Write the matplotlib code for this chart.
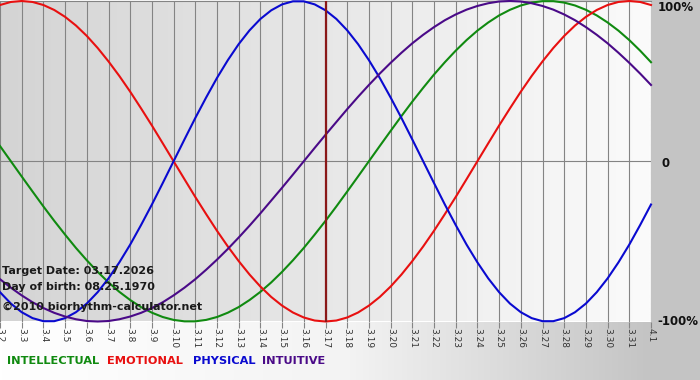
import numpy as np
import matplotlib.pyplot as plt
from matplotlib.colors import LinearSegmentedColormap

# Days shown on the x axis (target date 03.17.2026 in the middle)
days = ["3.2", "3.3", "3.4", "3.5", "3.6", "3.7", "3.8", "3.9", "3.10", "3.11",
        "3.12", "3.13", "3.14", "3.15", "3.16", "3.17", "3.18", "3.19", "3.20",
        "3.21", "3.22", "3.23", "3.24", "3.25", "3.26", "3.27", "3.28", "3.29",
        "3.30", "3.31", "4.1"]
target_day = "3.17"

# Cycle values in percent, read every half day (day, day + 1/2, next day ...)
physical = [-81.7, -88.8, -94.2, -97.9, -99.8, -99.8, -97.9, -94.2, -88.8, -81.7,
            -73.1, -63.1, -52.0, -39.8, -27.0, -13.6, 0, 13.6, 27.0, 39.8,
            52.0, 63.1, 73.1, 81.7, 88.8, 94.2, 97.9, 99.8, 99.8, 97.9,
            94.2, 88.8, 81.7, 73.1, 63.1, 52.0, 39.8, 27.0, 13.6, 0,
            -13.6, -27.0, -39.8, -52.0, -63.1, -73.1, -81.7, -88.8, -94.2, -97.9,
            -99.8, -99.8, -97.9, -94.2, -88.8, -81.7, -73.1, -63.1, -52.0, -39.8,
            -27.0]
emotional = [97.5, 99.4, 100, 99.4, 97.5, 94.4, 90.1, 84.7, 78.2, 70.7,
             62.3, 53.2, 43.4, 33.0, 22.3, 11.2, 0, -11.2, -22.3, -33.0,
             -43.4, -53.2, -62.3, -70.7, -78.2, -84.7, -90.1, -94.4, -97.5, -99.4,
             -100, -99.4, -97.5, -94.4, -90.1, -84.7, -78.2, -70.7, -62.3, -53.2,
             -43.4, -33.0, -22.3, -11.2, 0, 11.2, 22.3, 33.0, 43.4, 53.2,
             62.3, 70.7, 78.2, 84.7, 90.1, 94.4, 97.5, 99.4, 100, 99.4,
             97.5]
intellectual = [9.5, 0, -9.5, -18.9, -28.2, -37.2, -45.8, -54.1, -61.8, -69.0,
                -75.6, -81.5, -86.6, -91.0, -94.5, -97.2, -99.0, -99.9, -99.9, -99.0,
                -97.2, -94.5, -91.0, -86.6, -81.5, -75.6, -69.0, -61.8, -54.1, -45.8,
                -37.2, -28.2, -18.9, -9.5, 0, 9.5, 18.9, 28.2, 37.2, 45.8,
                54.1, 61.8, 69.0, 75.6, 81.5, 86.6, 91.0, 94.5, 97.2, 99.0,
                99.9, 99.9, 99.0, 97.2, 94.5, 91.0, 86.6, 81.5, 75.6, 69.0,
                61.8]
intuitive = [-73.6, -78.9, -83.7, -88.0, -91.6, -94.6, -96.9, -98.6, -99.7, -100,
             -99.7, -98.6, -96.9, -94.6, -91.6, -88.0, -83.7, -78.9, -73.6, -67.7,
             -61.4, -54.7, -47.6, -40.2, -32.5, -24.5, -16.5, -8.3, 0, 8.3,
             16.5, 24.5, 32.5, 40.2, 47.6, 54.7, 61.4, 67.7, 73.6, 78.9,
             83.7, 88.0, 91.6, 94.6, 96.9, 98.6, 99.7, 100, 99.7, 98.6,
             96.9, 94.6, 91.6, 88.0, 83.7, 78.9, 73.6, 67.7, 61.4, 54.7,
             47.6]

series = [("INTELLECTUAL", intellectual, "#108a10"),
          ("EMOTIONAL", emotional, "#e81010"),
          ("PHYSICAL", physical, "#0a0ad0"),
          ("INTUITIVE", intuitive, "#4a0a88")]

W, H = 700, 380
fig = plt.figure(figsize=(7, 3.8), dpi=100)

# background: white -> grey towards the right, grey right margin
bg = fig.add_axes([0, 0, 1, 1], zorder=-10)
bg_cmap = LinearSegmentedColormap.from_list(
    "bg", [(0, "#ffffff"), (0.5, "#f3f3f3"), (0.93, "#c4c4c4"), (1, "#c4c4c4")])
bg.imshow(np.linspace(0, 1, 512).reshape(1, -1), aspect="auto", cmap=bg_cmap,
          extent=[0, 1, 0, 1])
bg.axvspan(651 / W, 1, color="#c4c4c4")
bg.set_xlim(0, 1)
bg.set_ylim(0, 1)
bg.axis("off")

# main chart area
top, bottom, right = 1, 321.5, 651
ax = fig.add_axes([0, 1 - bottom / H, right / W, (bottom - top) / H])
x = np.arange(len(days))
xs = np.linspace(0, len(days) - 1, len(physical))
plot_cmap = LinearSegmentedColormap.from_list("plot", ["#d4d4d4", "#fbfbfb"])
ax.imshow(np.linspace(0, 1, 512).reshape(1, -1), aspect="auto", cmap=plot_cmap,
          extent=[0, len(days) - 1, -100, 100], zorder=0)
ax.set_xlim(0, len(days) - 1)
ax.set_ylim(-100, 100)

for xi in x:
    ax.axvline(xi, color="#848484", lw=0.8, zorder=1)
ax.axhline(0, color="#848484", lw=0.8, zorder=1)
ax.axhline(100, color="#848484", lw=0.8, zorder=1, clip_on=False)

for name, vals, col in series:
    ax.plot(xs, vals, color=col, lw=1.5, zorder=3, clip_on=False)

ax.axvline(days.index(target_day), color="#8a1818", lw=1.6, zorder=4)

for s in ax.spines.values():
    s.set_visible(False)
ax.set_xticks(x)
ax.set_xticklabels(days, rotation=-90, fontsize=6.5, color="#333333")
ax.tick_params(axis="x", length=4, width=0.8, color="#848484", pad=1)
ax.set_yticks([])

# right side percent labels
ax.text(1.011, 1 - 6 / 320, "100%", transform=ax.transAxes, fontsize=8.5,
        fontweight="bold", color="#111111", va="center", ha="left")
ax.text(1.016, 0.5 - 2 / 320, "0", transform=ax.transAxes, fontsize=8.5,
        fontweight="bold", color="#111111", va="center", ha="left")
ax.text(1.01, 0, "-100%", transform=ax.transAxes, fontsize=8.5,
        fontweight="bold", color="#111111", va="center", ha="left")

# info text
info = ["Target Date: 03.17.2026", "Day of birth: 08.25.1970",
        "\u00a92010 biorhythm-calculator.net"]
for txt, py in zip(info, [271, 287, 307]):
    fig.text(2 / W, 1 - py / H, txt, fontsize=8, fontweight="bold",
             color="#1a1a1a", va="center", ha="left", zorder=5)

# legend
lx = [7, 107, 193, 262]
for (name, vals, col), px in zip(series, lx):
    fig.text(px / W, 1 - 361 / H, name, fontsize=8.2, fontweight="bold",
             color=col, va="center", ha="left")

fig.savefig("out.png", dpi=100)
